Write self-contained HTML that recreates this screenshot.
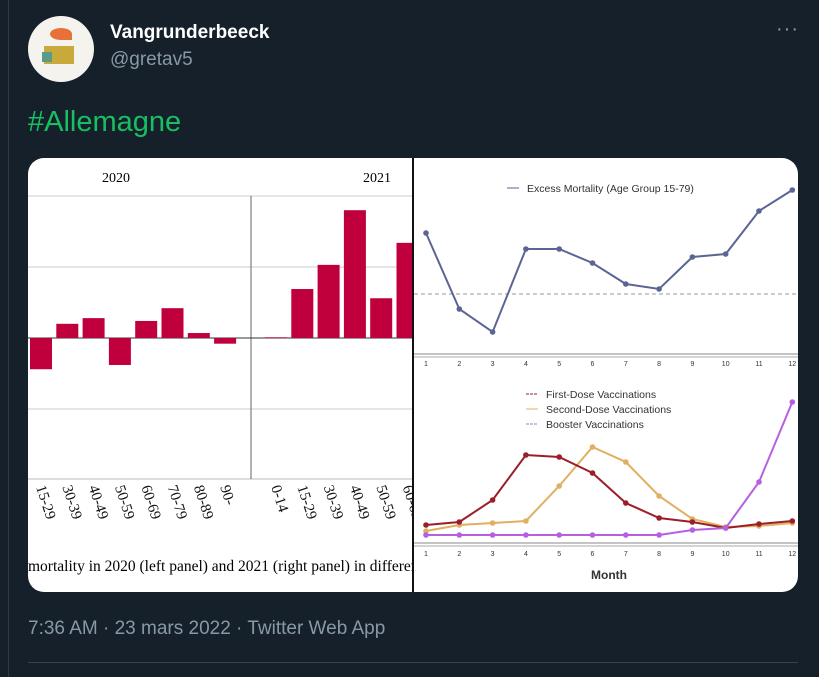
<!DOCTYPE html>
<html><head><meta charset="utf-8"><style>
body{margin:0;width:819px;height:677px;background:#15202b;font-family:"Liberation Sans",sans-serif;position:relative;overflow:hidden}
.a{position:absolute}
</style></head><body>
<div class="a" style="left:8px;top:0;width:1px;height:677px;background:#2f3b47"></div>
<div class="a" style="left:28px;top:16px;width:66px;height:66px;border-radius:50%;background:#f5f3ee;overflow:hidden">
 <div class="a" style="left:22px;top:12px;width:22px;height:12px;background:#e8713a;border-radius:50% 50% 0 50%"></div>
 <div class="a" style="left:16px;top:30px;width:30px;height:18px;background:#c9a93a"></div>
 <div class="a" style="left:14px;top:36px;width:10px;height:10px;background:#5a9a8a"></div>
</div>
<div class="a" style="left:110px;top:22px;color:#fff;font-weight:bold;font-size:19px">Vangrunderbeeck</div>
<div class="a" style="left:110px;top:49px;color:#8899a6;font-size:19px">@gretav5</div>
<div class="a" style="left:776px;top:18px;color:#8899a6;font-size:20px;letter-spacing:1px">···</div>
<div class="a" style="left:28px;top:106px;color:#17bf63;font-size:29px">#Allemagne</div>
<div class="a" style="left:28px;top:158px;width:770px;height:434px;border-radius:16px;overflow:hidden;background:#fff">
<svg id="s" width="770" height="434" viewBox="28 158 770 434" style="position:absolute;left:0;top:0" font-family="Liberation Serif, serif"></svg>
</div>
<div class="a" style="left:28px;top:618px;color:#8899a6;font-size:19px">7:36 AM · 23 mars 2022 · Twitter Web App</div>
<div class="a" style="left:28px;top:662px;width:770px;height:1px;background:#38444d"></div>
<script>
const ages2020=["15-29","30-39","40-49","50-59","60-69","70-79","80-89","90-"];
const vals2020=[-4.4,2.0,2.8,-3.8,2.4,4.2,0.7,-0.8];
const ages2021=["0-14","15-29","30-39","40-49","50-59","60-69"];
const vals2021=[0.1,6.9,10.3,18.0,5.6,13.4];
const months=[1,2,3,4,5,6,7,8,9,10,11,12];
const excess=[6.1,-1.5,-3.8,4.5,4.5,3.1,1.0,0.5,3.7,4.0,8.3,10.4];
const firstDose=[19,22,44,89,87,71,41,26,22,16,20,23];
const secondDose=[13,19,21,23,58,97,82,48,25,17,18,21];
const booster=[9,9,9,9,9,9,9,9,14,16,62,142];
const s=document.getElementById('s');const NS='http://www.w3.org/2000/svg';
function el(t,a,p){const e=document.createElementNS(NS,t);for(const k in a)e.setAttribute(k,a[k]);(p||s).appendChild(e);return e}
const yB=v=>338-v*7.1;
const g=el('g',{'clip-path':'url(#c)'});
const cp=el('clipPath',{id:'c'});el('rect',{x:28,y:158,width:385,height:434},cp);
[196,267,409].forEach(y=>{const l=el('line',{x1:28,x2:413,y1:y,y2:y,stroke:'#ccc','stroke-width':1},g);});
el('line',{x1:28,x2:413,y1:479,y2:479,stroke:'#bbb'},g);
el('line',{x1:251,x2:251,y1:196,y2:479,stroke:'#666'},g);
el('line',{x1:28,x2:413,y1:338,y2:338,stroke:'#333'},g);
function bars(ages,vals,x0){vals.forEach((v,i)=>{const cx=x0+i*26.3;const r=el('rect',{x:cx-11,y:Math.min(yB(v),338),width:22,height:Math.abs(yB(v)-338),fill:'#c0003c'},g);

const t=el('text',{x:0,y:0,'font-size':15,fill:'#111',transform:`translate(${cx-5},${487}) rotate(72)`},g);t.textContent=ages[i];
});}
bars(ages2020,vals2020,41);bars(ages2021,vals2021,276);
let t=el('text',{x:116,y:182,'font-size':14,'text-anchor':'middle'},g);t.textContent='2020';
t=el('text',{x:377,y:182,'font-size':14,'text-anchor':'middle'},g);t.textContent='2021';
t=el('text',{x:28,y:571,'font-size':15.5},g);t.textContent='mortality in 2020 (left panel) and 2021 (right panel) in different age groups';
el('rect',{x:412,y:158,width:2,height:434,fill:'#111'});
const xM=m=>426+(m-1)*33.3;
const yT=v=>294-v*10, yV=v=>544-v;
const F='Liberation Sans, sans-serif';
el('line',{x1:414,x2:798,y1:294,y2:294,stroke:'#999','stroke-dasharray':'4 3'});
el('line',{x1:414,x2:798,y1:354,y2:354,stroke:'#888'});el('line',{x1:414,x2:798,y1:357,y2:357,stroke:'#aaa'});
el('line',{x1:414,x2:798,y1:543,y2:543,stroke:'#888'});el('line',{x1:414,x2:798,y1:546,y2:546,stroke:'#aaa'});
months.forEach(m=>{[366,556].forEach(y=>{const tt=el('text',{x:xM(m),y:y,'font-size':7,'text-anchor':'middle','font-family':F,fill:'#333'});tt.textContent=m;});});
function series(vals,fy,col,name){const p=el('polyline',{points:vals.map((v,i)=>xM(months[i])+','+fy(v)).join(' '),fill:'none',stroke:col,'stroke-width':2});

vals.forEach((v,i)=>{const c=el('circle',{cx:xM(months[i]),cy:fy(v),r:2.8,fill:col});});}
series(excess,yT,'#5a6595','excess-mortality');
series(secondDose,yV,'#e0b060','second-dose');
series(firstDose,yV,'#9a1f2a','first-dose');
series(booster,yV,'#b660e0','booster');
function leg(x,y,col,txt,dash,name){el('line',{x1:x,x2:x+12,y1:y-4,y2:y-4,stroke:col,'stroke-dasharray':dash||''});const tt=el('text',{x:x+20,y:y,'font-size':10.5,'font-family':F,fill:'#333'});tt.textContent=txt;}
leg(507,192,'#5a6595','Excess Mortality (Age Group 15-79)','', 'legend-excess');
leg(526,398,'#9a1f2a','First-Dose Vaccinations','3 1','legend-first-dose');
leg(526,413,'#e0b060','Second-Dose Vaccinations','', 'legend-second-dose');
leg(526,428,'#8888bb','Booster Vaccinations','3 1','legend-booster');
t=el('text',{x:609,y:579,'font-size':12,'font-weight':'bold','text-anchor':'middle','font-family':F,fill:'#333'});t.textContent='Month';
</script>
</body></html>
